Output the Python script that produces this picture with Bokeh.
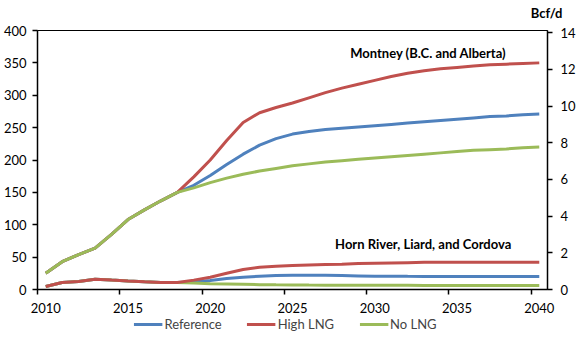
from bokeh.plotting import figure
from bokeh.models import (Range1d, LinearAxis, FixedTicker, Label, Legend, LegendItem, Title)
from bokeh.layouts import column, row
from bokeh.embed import file_html
from bokeh.resources import INLINE

years = list(range(2010, 2041))

# Montney (B.C. and Alberta), 10^6 m3/d
hist_montney = [25, 43, 54, 64, 85, 108, 123, 137, 150]
montney_ref = hist_montney + [161, 176, 193, 209, 223, 233, 240, 244, 247, 249, 251,
                              253, 255, 257, 259, 261, 263, 265, 267, 268, 270, 271]
montney_high = hist_montney + [174, 200, 230, 258, 273, 281, 288, 296, 304, 311, 317,
                               323, 329, 334, 338, 341, 343, 345, 347, 348, 349, 350]
montney_no = hist_montney + [157, 165, 172, 178, 183, 187, 191, 194, 197, 199, 201,
                             203, 205, 207, 209, 211, 213, 215, 216, 217, 219, 220]

# Horn River, Liard, and Cordova, 10^6 m3/d
hist_horn = [4.6, 10.8, 12.5, 16, 14.5, 13.2, 12, 11, 10.8]
horn_ref = hist_horn + [11.5, 14, 17, 19, 20.5, 21.5, 22, 22, 22, 21.5, 21,
                        20.5, 20.5, 20.3, 20.2, 20.1, 20, 20, 20, 20, 20, 20]
horn_high = hist_horn + [14.5, 19, 25, 31, 34.5, 36, 37, 38, 38.5, 39, 40,
                         40.5, 41, 41.5, 42, 42, 42.2, 42, 42, 42, 42, 42]
horn_no = hist_horn + [10, 9, 8.5, 8, 7.5, 7.2, 7, 6.8, 6.7, 6.6, 6.5,
                       6.5, 6.4, 6.4, 6.3, 6.3, 6.2, 6.2, 6.2, 6.2, 6.2, 6.2]

x_tick_labels = [2010, 2015, 2020, 2025, 2030, 2035, 2040]
y_left_ticks = [0, 50, 100, 150, 200, 250, 300, 350, 400]
y_right_ticks = [0, 2, 4, 6, 8, 10, 12, 14]
series_names = ["Reference", "High LNG", "No LNG"]
unit_left = "10\u2076m\u00b3/d"
unit_right = "Bcf/d"
BLUE, RED, GREEN = "#4F81BD", "#C0504D", "#9BBB59"
FONT = "Lato"
BCF_PER_MM3 = 28.317
W = 570
WL = 300
WR = 278

# ---- unit labels strip (above the chart) ----
topL = figure(frame_width=WL, frame_height=22, output_backend="svg", toolbar_location=None,
              min_border=0, x_range=Range1d(0, WL), y_range=Range1d(0, 22))
topL.axis.visible = False
topL.grid.visible = False
topL.outline_line_color = None
topL.add_layout(Label(x=40, y=11, text=unit_left, text_font=FONT, text_font_size="13px",
                      text_font_style="bold", text_color="black", text_align="center",
                      text_baseline="middle"))

topR = figure(frame_width=WR, frame_height=1, output_backend="svg", toolbar_location=None,
              min_border=0, x_range=Range1d(0, 1), y_range=Range1d(0, 1))
topR.axis.visible = False
topR.grid.visible = False
topR.outline_line_color = None
topR.add_layout(Title(text=unit_right, align="right", offset=16, standoff=4,
                      text_font=FONT, text_font_size="13px", text_font_style="bold",
                      text_color="black"), "above")

# ---- main chart ----
p = figure(frame_width=510, frame_height=259, output_backend="svg", toolbar_location=None,
           x_range=Range1d(2009.5, 2040.5), y_range=Range1d(0, 400),
           min_border_left=0, min_border_right=0, min_border_top=7, min_border_bottom=0)
p.outline_line_color = "black"
p.outline_line_width = 1
p.xgrid.visible = False
p.ygrid.visible = False

p.extra_y_ranges = {"bcf": Range1d(0, 400 / BCF_PER_MM3)}
right_axis = LinearAxis(y_range_name="bcf", ticker=FixedTicker(ticks=y_right_ticks))
p.add_layout(right_axis, "right")

p.xaxis.ticker = FixedTicker(ticks=x_tick_labels,
                             minor_ticks=[y - 0.5 for y in x_tick_labels])
p.yaxis[0].ticker = FixedTicker(ticks=y_left_ticks)

for ax in p.xaxis + p.yaxis:
    ax.axis_line_width = 1.5
    ax.axis_line_color = "black"
    ax.major_tick_line_color = "black"
    ax.major_tick_line_width = 1.5
    ax.major_tick_out = 5
    ax.major_tick_in = 0
    ax.minor_tick_line_color = None
    ax.major_label_text_font = FONT
    ax.major_label_text_font_size = "13px"
    ax.major_label_text_color = "black"
    ax.major_label_standoff = 6
right_axis.major_label_standoff = 8
p.xaxis.major_tick_line_color = None
p.xaxis.minor_tick_line_color = "black"
p.xaxis.minor_tick_line_width = 1.5
p.xaxis.minor_tick_out = 5
p.xaxis.minor_tick_in = 0
p.xaxis.major_label_standoff = 8

LW = 3
p.line(years, montney_ref, color=BLUE, line_width=LW)
p.line(years, montney_high, color=RED, line_width=LW)
p.line(years, montney_no, color=GREEN, line_width=LW)
p.line(years, horn_ref, color=BLUE, line_width=LW)
p.line(years, horn_no, color=GREEN, line_width=LW)
p.line(years, horn_high, color=RED, line_width=LW)

common = dict(text_font=FONT, text_font_size="13px", text_font_style="bold",
              text_color="black", text_baseline="middle")
p.add_layout(Label(x=2038, y=365, text="Montney (B.C. and Alberta)", text_align="right", **common))
p.add_layout(Label(x=2038.3, y=70, text="Horn River, Liard, and Cordova", text_align="right", **common))

# ---- legend strip (below the chart) ----
leg = figure(frame_width=W, frame_height=18, output_backend="svg", toolbar_location=None,
             min_border=0, x_range=Range1d(-10, -9), y_range=Range1d(0, 1))
leg.axis.visible = False
leg.grid.visible = False
leg.outline_line_color = None
l_ref = leg.line(years, montney_ref, color=BLUE, line_width=LW)
l_high = leg.line(years, montney_high, color=RED, line_width=LW)
l_no = leg.line(years, montney_no, color=GREEN, line_width=LW)
legend = Legend(items=[LegendItem(label=series_names[0], renderers=[l_ref]),
                       LegendItem(label=series_names[1], renderers=[l_high]),
                       LegendItem(label=series_names[2], renderers=[l_no])],
                orientation="horizontal", location="center",
                border_line_color=None, background_fill_alpha=0,
                label_text_font=FONT, label_text_font_size="13px",
                glyph_width=29, glyph_height=10, label_height=14, label_standoff=2,
                spacing=25, padding=0, margin=0)
leg.add_layout(legend)

layout = column(row(topL, topR, spacing=0), p, leg, spacing=0)
open("out.html", "w").write(file_html(layout, INLINE))
